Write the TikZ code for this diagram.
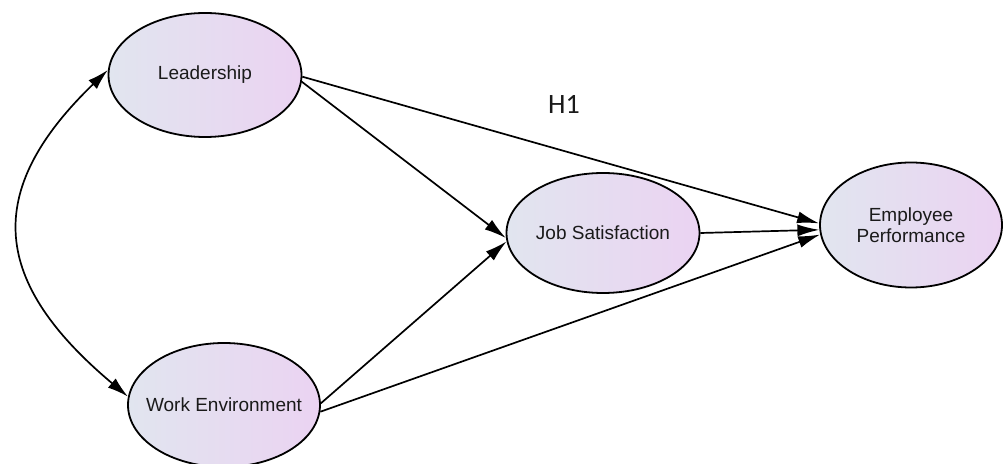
\documentclass[tikz,border=0pt]{standalone}
\usepackage{fontspec}
\setmainfont{Liberation Sans}
\newfontfamily\hypfont{Carlito}
\usepackage{tikz}
\usetikzlibrary{shapes.geometric,arrows.meta}
\definecolor{ConstructBlue}{HTML}{E1E5EF}
\definecolor{ConstructPurple}{HTML}{EBD3F2}
\definecolor{ConstructText}{HTML}{1A1A1A}

\begin{document}
\begin{tikzpicture}[x=1pt,y=1pt,
    construct/.style={ellipse,draw,line width=1.8pt,inner xsep=-15pt,inner ysep=0pt,
        left color=ConstructBlue,right color=ConstructPurple,
        text=ConstructText,align=center,font=\fontsize{19}{21}\selectfont},
    relation/.style={line width=1.7pt,-{Latex[length=22pt,width=12pt]}}]
    \useasboundingbox (0,0) rectangle (1003,463);

    \node[construct,minimum width=193pt,minimum height=124pt] (L) at (205,388) {Leadership};
    \node[construct,minimum width=192pt,minimum height=124pt] (WE) at (224,58) {Work Environment};
    \node[construct,minimum width=193pt,minimum height=120pt] (JS) at (603,230) {Job Satisfaction};
    \node[construct,minimum width=182pt,minimum height=125pt] (EP) at (911,238) {Employee\\Performance};
    \node[font=\hypfont\fontsize{28}{30}\selectfont,text=ConstructText] (H1) at (564,359) {H1};

    \draw[relation] (L.-1) -- (EP.179);
    \draw[relation] (L.-4) -- (JS.183);
    \draw[relation] (WE.1) -- (JS.185);
    \draw[relation] (WE.-4) -- (EP.186);
    \draw[relation] (JS.east) -- (EP.183);
    \draw[relation,{Latex[length=21pt,width=12pt]}-{Latex[length=21pt,width=12pt]}]
        (L.177) to[out=224,in=140,looseness=1.38] (WE.175);
\end{tikzpicture}
\end{document}
